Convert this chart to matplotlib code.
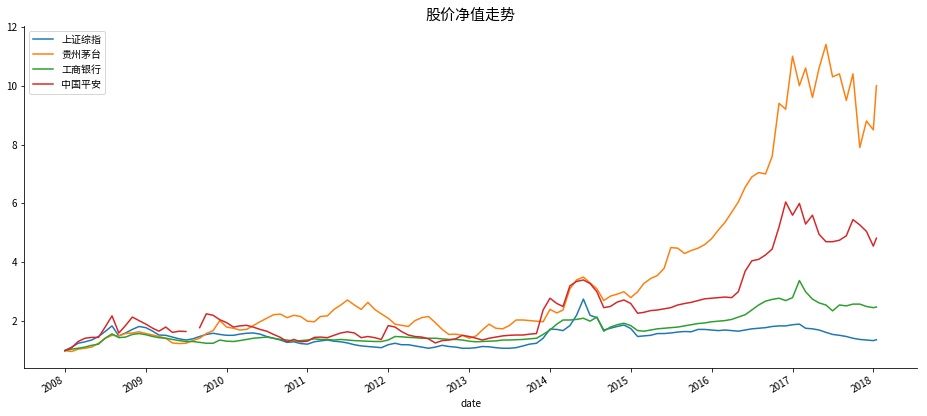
import numpy as np
import pandas as pd
import matplotlib
matplotlib.use('Agg')
import matplotlib.pyplot as plt
import matplotlib.dates as mdates

plt.rcParams['font.family'] = ['Noto Sans CJK SC', 'DejaVu Sans']
plt.rcParams['axes.unicode_minus'] = False

# month starts 2008-01 .. 2018-01, plus the last trading day shown
dates = list(pd.date_range('2008-01-01', periods=121, freq='MS')) + [pd.Timestamp('2018-01-15')]

sh_index = [1.00, 1.12, 1.25, 1.30, 1.36, 1.48, 1.65, 1.84, 1.50, 1.60, 1.72, 1.82,
            1.78, 1.66, 1.53, 1.52, 1.46, 1.40, 1.36, 1.40, 1.48, 1.55, 1.59, 1.55,
            1.52, 1.52, 1.56, 1.59, 1.60, 1.56, 1.48, 1.42, 1.36, 1.28, 1.30, 1.24,
            1.22, 1.30, 1.33, 1.36, 1.32, 1.30, 1.26, 1.20, 1.16, 1.14, 1.12, 1.10,
            1.20, 1.25, 1.20, 1.20, 1.16, 1.12, 1.08, 1.12, 1.18, 1.14, 1.12, 1.08,
            1.08, 1.10, 1.14, 1.13, 1.10, 1.08, 1.08, 1.10, 1.16, 1.22, 1.25, 1.42,
            1.73, 1.72, 1.68, 1.85, 2.20, 2.75, 2.20, 2.12, 1.70, 1.76, 1.82, 1.87,
            1.75, 1.48, 1.50, 1.52, 1.58, 1.58, 1.60, 1.63, 1.65, 1.64, 1.72, 1.72,
            1.70, 1.68, 1.70, 1.68, 1.66, 1.70, 1.74, 1.76, 1.78, 1.82, 1.84, 1.84,
            1.88, 1.90, 1.76, 1.74, 1.70, 1.62, 1.55, 1.52, 1.48, 1.42, 1.38, 1.36,
            1.34, 1.37]

moutai = [1.00, 0.97, 1.05, 1.08, 1.12, 1.25, 1.42, 1.52, 1.50, 1.58, 1.60, 1.64,
          1.58, 1.53, 1.48, 1.42, 1.26, 1.24, 1.25, 1.34, 1.42, 1.58, 1.68, 2.02,
          1.80, 1.76, 1.70, 1.72, 1.85, 1.98, 2.10, 2.22, 2.24, 2.12, 2.20, 2.16,
          2.00, 1.98, 2.16, 2.18, 2.40, 2.55, 2.72, 2.55, 2.40, 2.64, 2.40, 2.25,
          2.10, 1.90, 1.86, 1.82, 2.02, 2.12, 2.16, 1.95, 1.72, 1.55, 1.56, 1.52,
          1.42, 1.50, 1.70, 1.90, 1.76, 1.74, 1.85, 2.04, 2.04, 2.02, 2.00, 1.98,
          2.40, 2.28, 2.38, 3.10, 3.40, 3.50, 3.30, 3.10, 2.70, 2.85, 2.92, 3.00,
          2.80, 3.00, 3.28, 3.45, 3.55, 3.80, 4.50, 4.48, 4.30, 4.40, 4.48, 4.60,
          4.80, 5.10, 5.35, 5.70, 6.05, 6.55, 6.90, 7.05, 7.00, 7.60, 9.40, 9.20,
          11.00, 10.00, 10.60, 9.60, 10.60, 11.40, 10.30, 10.40, 9.50, 10.40, 7.90, 8.80,
          8.50, 10.00]

icbc = [1.00, 1.05, 1.08, 1.12, 1.18, 1.22, 1.42, 1.57, 1.44, 1.46, 1.55, 1.58,
        1.54, 1.48, 1.44, 1.42, 1.38, 1.34, 1.31, 1.31, 1.28, 1.25, 1.25, 1.36,
        1.32, 1.31, 1.34, 1.38, 1.42, 1.44, 1.46, 1.42, 1.38, 1.36, 1.32, 1.34,
        1.36, 1.40, 1.38, 1.38, 1.36, 1.38, 1.36, 1.34, 1.33, 1.32, 1.31, 1.31,
        1.36, 1.48, 1.47, 1.45, 1.44, 1.42, 1.42, 1.42, 1.40, 1.38, 1.38, 1.36,
        1.32, 1.30, 1.31, 1.32, 1.33, 1.36, 1.36, 1.37, 1.38, 1.40, 1.42, 1.55,
        1.70, 1.90, 2.04, 2.04, 2.06, 2.10, 2.00, 2.14, 1.66, 1.80, 1.88, 1.93,
        1.85, 1.68, 1.66, 1.70, 1.74, 1.76, 1.78, 1.80, 1.84, 1.88, 1.92, 1.94,
        1.98, 2.00, 2.02, 2.06, 2.14, 2.22, 2.38, 2.55, 2.68, 2.74, 2.78, 2.70,
        2.80, 3.38, 3.00, 2.75, 2.62, 2.55, 2.35, 2.55, 2.52, 2.58, 2.58, 2.50,
        2.46, 2.48]

pingan = [1.00, 1.10, 1.31, 1.42, 1.45, 1.45, 1.80, 2.18, 1.60, 1.85, 2.14, 2.02,
          1.90, 1.76, 1.66, 1.80, 1.62, 1.66, 1.65, np.nan, 1.78, 2.25, 2.20, 2.05,
          1.95, 1.80, 1.84, 1.86, 1.80, 1.72, 1.66, 1.55, 1.45, 1.30, 1.38, 1.30,
          1.32, 1.45, 1.46, 1.44, 1.52, 1.60, 1.64, 1.60, 1.44, 1.48, 1.44, 1.38,
          1.85, 1.80, 1.65, 1.53, 1.48, 1.46, 1.40, 1.26, 1.34, 1.36, 1.40, 1.52,
          1.48, 1.42, 1.36, 1.42, 1.46, 1.50, 1.52, 1.53, 1.53, 1.56, 1.58, 2.38,
          2.78, 2.60, 2.50, 3.20, 3.35, 3.40, 3.28, 3.00, 2.46, 2.50, 2.65, 2.72,
          2.60, 2.27, 2.30, 2.36, 2.38, 2.42, 2.46, 2.55, 2.60, 2.64, 2.70, 2.76,
          2.78, 2.80, 2.82, 2.80, 3.00, 3.70, 4.05, 4.10, 4.25, 4.45, 5.20, 6.05,
          5.60, 6.00, 5.30, 5.60, 4.95, 4.70, 4.70, 4.75, 4.90, 5.45, 5.27, 5.05,
          4.55, 4.82]

names = ['上证综指', '贵州茅台', '工商银行', '中国平安']

fig = plt.figure(figsize=(927 / 72, 416 / 72), dpi=72)
ax = fig.add_axes([0.0262, 0.1147, 0.9630, 0.8230])

for vals, name in zip([sh_index, moutai, icbc, pingan], names):
    ax.plot(dates, vals, label=name, linewidth=1.5)

ax.set_ylim(0.40, 12.03)
ax.xaxis.set_major_locator(mdates.YearLocator())
ax.xaxis.set_major_formatter(mdates.DateFormatter('%Y'))
for lbl in ax.get_xticklabels():
    lbl.set_rotation(30)
    lbl.set_ha('right')

ax.set_title('股价净值走势', fontsize=15)
ax.set_xlabel('date', fontsize=10)
ax.tick_params(labelsize=10)
ax.spines['top'].set_visible(False)
ax.spines['right'].set_visible(False)

ax.legend(loc='upper left', fontsize=10)
fig.savefig('out.png', dpi=72)
